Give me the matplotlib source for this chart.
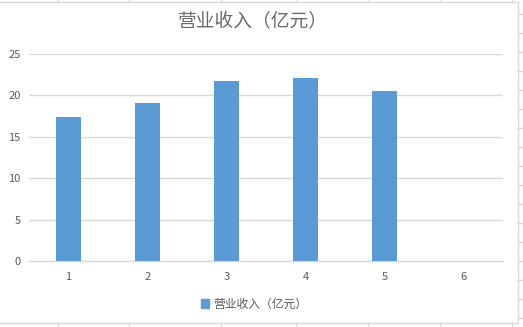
import matplotlib
matplotlib.use("Agg")
import matplotlib.pyplot as plt
from matplotlib.lines import Line2D
from matplotlib.patches import Rectangle

plt.rcParams['font.family'] = ['Noto Sans CJK SC', 'DejaVu Sans']

# data
categories = ["1", "2", "3", "4", "5", "6"]
revenue = [17.4, 19.1, 21.7, 22.1, 20.5, 0]
series_name = "营业收入（亿元）"
y_ticks = [0, 5, 10, 15, 20, 25]

W, H = 523, 327
fig = plt.figure(figsize=(W / 100, H / 100), dpi=100)
fig.patch.set_facecolor("white")

# spreadsheet cell lines behind the chart
sheet_color = "#d4d8e2"
for x in [58, 129, 221, 296, 368, 440, 512]:
    fig.add_artist(Line2D([x / W, x / W], [1, 1 - 2 / H], color=sheet_color, lw=1))
    fig.add_artist(Line2D([x / W, x / W], [0, 4 / H], color=sheet_color, lw=1))
for y in range(14, 327, 19):
    fig.add_artist(Line2D([518 / W, 1], [1 - y / H, 1 - y / H], color=sheet_color, lw=1))
# chart area border
fig.add_artist(Rectangle((-0.01, 4.3 / H), 518.5 / W + 0.01, 320.5 / H,
                         fill=False, edgecolor="#d9d9d9", lw=1))

ax = fig.add_axes([29 / W, 65.7 / H, 474 / W, 207.5 / H])
x = list(range(1, len(categories) + 1))
ax.bar(x, revenue, width=0.32, color="#5b9bd5", zorder=3)

ax.set_xlim(0.5, len(categories) + 0.5)
ax.set_ylim(0, 25)
ax.set_yticks(y_ticks)
ax.set_xticks(x)
ax.set_xticklabels(categories)
ax.grid(axis="y", color="#d9d9d9", lw=1, zorder=0)
for s in ["top", "right", "left"]:
    ax.spines[s].set_visible(False)
ax.spines["bottom"].set_color("#d9d9d9")
ax.spines["bottom"].set_linewidth(1)
ax.tick_params(axis="both", length=0, colors="#595959", labelsize=8)
ax.tick_params(axis="y", pad=6)
ax.tick_params(axis="x", pad=8)

fig.text(253 / W, 1 - 22 / H, series_name, ha="center", va="center",
         fontsize=13.5, fontweight="light", color="#6a6a6a")

handle = Rectangle((0, 0), 1, 1, color="#5b9bd5")
fig.legend([handle], [series_name], loc="center", bbox_to_anchor=(254 / W, 1 - 304 / H),
           frameon=False, fontsize=8.5, labelcolor="#595959",
           handlelength=0.7, handleheight=0.7, handletextpad=0.4)

fig.savefig("out.png", dpi=100)
